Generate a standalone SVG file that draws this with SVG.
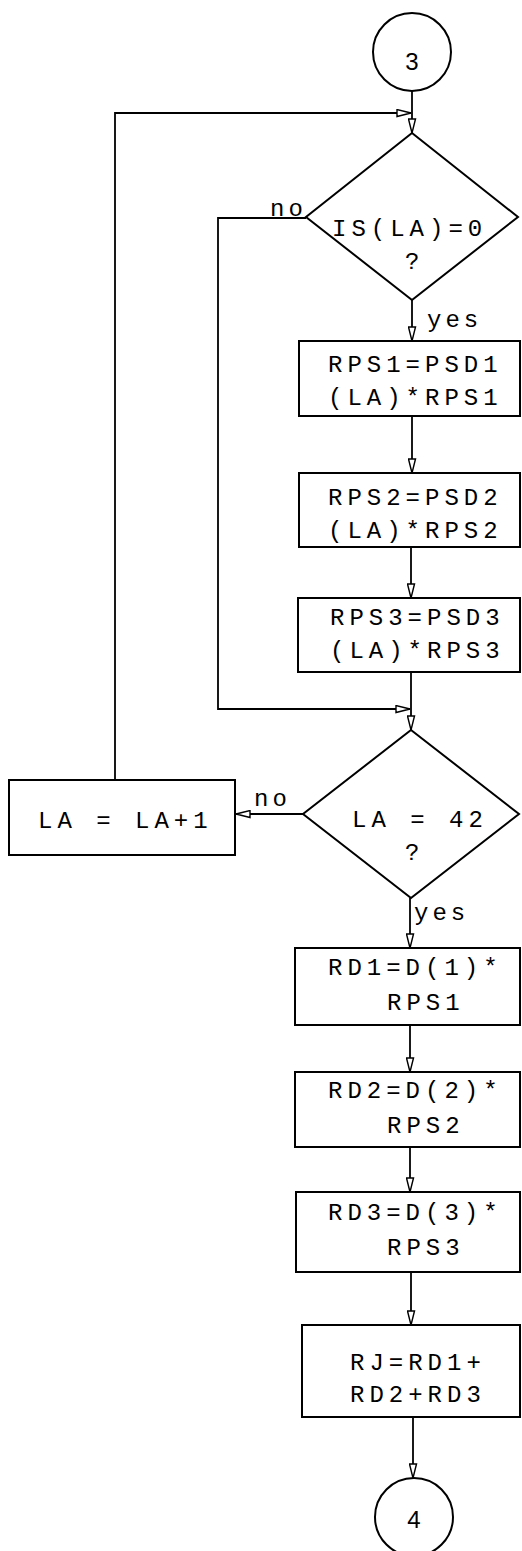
<svg xmlns="http://www.w3.org/2000/svg" width="522" height="1551" viewBox="0 0 522 1551">
<style>
.s{fill:none;stroke:#000;stroke-width:2}
.c{fill:none;stroke:#000;stroke-width:1.8}
.t{font-family:"Liberation Mono",monospace;font-size:24px;letter-spacing:5px;fill:#000}
.l{font-family:"Liberation Mono",monospace;font-size:24px;letter-spacing:4px;fill:#000}
.n{font-family:"Liberation Sans",sans-serif;font-size:24px;fill:#000;text-anchor:middle}
</style>
<defs>
<marker id="a" viewBox="0 0 16 9" refX="15" refY="4.5" markerWidth="16" markerHeight="9" markerUnits="userSpaceOnUse" orient="auto">
<path d="M1,1 L15,4.5 L1,8 Z" fill="#fff" stroke="#000" stroke-width="1.4"/>
</marker>
</defs>
<g id="connectors">
<path class="c" d="M412,91 V133" marker-end="url(#a)"/>
<path class="c" d="M115,780 V113 H411" marker-end="url(#a)"/>
<path class="c" d="M306,218 H218 V709 H410" marker-end="url(#a)"/>
<path class="c" d="M412,300 V341" marker-end="url(#a)"/>
<path class="c" d="M412,416 V473" marker-end="url(#a)"/>
<path class="c" d="M411,547 V598" marker-end="url(#a)"/>
<path class="c" d="M411,672 V730" marker-end="url(#a)"/>
<path class="c" d="M303,814 H236" marker-end="url(#a)"/>
<path class="c" d="M410,898 V948" marker-end="url(#a)"/>
<path class="c" d="M410,1025 V1072" marker-end="url(#a)"/>
<path class="c" d="M410,1147 V1192" marker-end="url(#a)"/>
<path class="c" d="M411,1272 V1325" marker-end="url(#a)"/>
<path class="c" d="M413,1417 V1478" marker-end="url(#a)"/>
<text class="l" x="270" y="216">no</text>
<text class="l" x="427" y="327">yes</text>
<text class="l" x="254" y="806">no</text>
<text class="l" x="414" y="920">yes</text>
</g>
<g id="start3">
<circle class="s" cx="412" cy="52" r="39"/>
<text class="n" x="412" y="70">3</text>
</g>
<g id="dec1">
<polygon class="s" points="412,133 518,217 412,300 306,217"/>
<text class="t" x="332" y="236">IS(LA)=0</text>
<text class="t" x="405" y="269">?</text>
</g>
<g id="box1">
<rect class="s" x="299" y="341" width="221" height="75"/>
<text class="t" x="328" y="372">RPS1=PSD1</text>
<text class="t" x="328" y="405">(LA)*RPS1</text>
</g>
<g id="box2">
<rect class="s" x="299" y="473" width="221" height="74"/>
<text class="t" x="328" y="505">RPS2=PSD2</text>
<text class="t" x="328" y="538">(LA)*RPS2</text>
</g>
<g id="box3">
<rect class="s" x="298" y="598" width="222" height="74"/>
<text class="t" x="330" y="625">RPS3=PSD3</text>
<text class="t" x="330" y="658">(LA)*RPS3</text>
</g>
<g id="dec2">
<polygon class="s" points="411,730 519,814 411,898 303,814"/>
<text class="t" x="352" y="827">LA = 42</text>
<text class="t" x="405" y="860">?</text>
</g>
<g id="inc">
<rect class="s" x="9" y="780" width="226" height="75"/>
<text class="t" x="38" y="828">LA = LA+1</text>
</g>
<g id="rd1">
<rect class="s" x="295" y="948" width="225" height="77"/>
<text class="t" x="328" y="975">RD1=D(1)*</text>
<text class="t" x="387" y="1010">RPS1</text>
</g>
<g id="rd2">
<rect class="s" x="295" y="1072" width="225" height="75"/>
<text class="t" x="328" y="1098">RD2=D(2)*</text>
<text class="t" x="387" y="1133">RPS2</text>
</g>
<g id="rd3">
<rect class="s" x="296" y="1192" width="224" height="80"/>
<text class="t" x="328" y="1220">RD3=D(3)*</text>
<text class="t" x="387" y="1255">RPS3</text>
</g>
<g id="rj">
<rect class="s" x="302" y="1325" width="218" height="92"/>
<text class="t" x="350" y="1370">RJ=RD1+</text>
<text class="t" x="350" y="1402">RD2+RD3</text>
</g>
<g id="end4">
<circle class="s" cx="414" cy="1517" r="39"/>
<text class="n" x="414" y="1528">4</text>
</g>
</svg>
